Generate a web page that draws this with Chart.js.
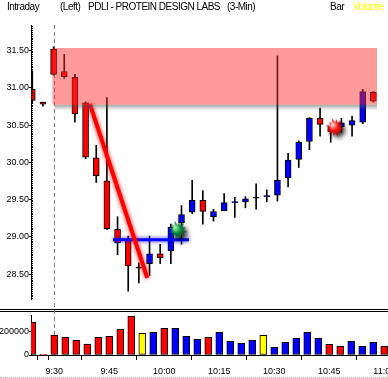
<!DOCTYPE html>
<html>
<head>
<meta charset="utf-8">
<script src="https://cdn.jsdelivr.net/npm/chart.js@4.4.1/dist/chart.umd.min.js"></script>
<style>
  html, body { margin: 0; padding: 0; background: #fff; }
  #wrap { position: relative; width: 388px; height: 378px; overflow: hidden; background: #fff; }
  .hd { position: absolute; top: 1px; font: 10px "Liberation Sans", Arial, sans-serif; letter-spacing: -0.5px; color: #000; white-space: pre; }
  #priceChart { position: absolute; left: 0; top: 0; }
  #volChart { position: absolute; left: 0; top: 300px; }
  #foot { position: absolute; left: 0; top: 377px; width: 388px; border-top: 1px dotted #b0b0b0; }
</style>
</head>
<body>
<div id="wrap">
  <canvas id="priceChart" width="388" height="310"></canvas>
  <canvas id="volChart" width="388" height="78"></canvas>
  <div class="hd" style="left:7px">Intraday</div>
  <div class="hd" style="left:60px">(Left)</div>
  <div class="hd" style="left:88px">PDLI - PROTEIN DESIGN LABS</div>
  <div class="hd" style="left:227px">(3-Min)</div>
  <div class="hd" style="left:330px">Bar</div>
  <div class="hd" style="left:353px;color:#ffff00">Volume</div>
  <div id="foot"></div>
</div>
<script>
// 3-minute bars, 9:24 -> 11:00
const times = ['9:24', '9:27', '9:30', '9:33', '9:36', '9:39', '9:42', '9:45', '9:48', '9:51',
               '9:54', '9:57', '10:00', '10:03', '10:06', '10:09', '10:12', '10:15', '10:18', '10:21',
               '10:24', '10:27', '10:30', '10:33', '10:36', '10:39', '10:42', '10:45', '10:48', '10:51',
               '10:54', '10:57', '11:00'];
const opens  = [30.98, 30.81, 31.52, 31.22, 31.14, 30.80, 30.06, 29.75, 29.10, 28.96,
                28.58, 28.64, 28.77, 28.81, 29.19, 29.33, 29.49, 29.27, 29.35, 29.46,
                29.47, 29.52, 29.54, 29.56, 29.79, 30.04, 30.28, 30.59, 30.48, 30.48,
                30.50, 30.54, 30.94];
const highs  = [31.23, 30.81, 31.55, 31.45, 31.18, 30.81, 30.23, 30.87, 29.27, 29.01,
                28.65, 29.01, 28.90, 29.17, 29.42, 29.76, 29.62, 29.37, 29.58, 29.53,
                29.54, 29.71, 29.63, 31.43, 30.12, 30.29, 30.60, 30.73, 30.52, 30.59,
                30.62, 30.98, 30.95];
const lows   = [30.79, 30.755, 31.17, 31.13, 30.54, 30.05, 29.73, 29.10, 28.76, 28.27,
                28.38, 28.48, 28.64, 28.64, 28.90, 29.31, 29.17, 29.21, 29.35, 29.26,
                29.39, 29.37, 29.47, 29.48, 29.67, 29.93, 30.17, 30.35, 30.27, 30.40,
                30.35, 30.52, 30.81];
const closes = [30.83, 30.78, 31.18, 31.15, 30.65, 30.07, 29.82, 29.11, 28.92, 28.61,
                28.58, 28.77, 28.72, 29.13, 29.30, 29.49, 29.34, 29.34, 29.46, 29.47,
                29.51, 29.52, 29.55, 29.76, 30.03, 30.27, 30.59, 30.51, 30.41, 30.53,
                30.56, 30.95, 30.82];
const volumes = [280000, 6000, 171000, 151000, 126000, 94000, 151000, 160000, 220000, 334000,
                 186000, 194000, 229000, 229000, 160000, 134000, 151000, 194000, 117000, 100000,
                 126000, 169000, 66000, 109000, 143000, 194000, 143000, 91000, 74000, 117000,
                 74000, 109000, 74000];

const priceTicks = [28.5, 29.0, 29.5, 30.0, 30.5, 31.0, 31.5];
const volTicks = [0, 200000];
const timeTickIdx = [1, 2, 7, 12, 17, 22, 27, 32];
const timeTickLabels = ['', '9:30', '9:45', '10:00', '10:15', '10:30', '10:45', '11:00'];

// annotations (x in bar index, y in price)
const zoneLow = 30.775, zoneHigh = 31.535, zoneStart = 1.9;
const trendLine = [{x: 5.4, y: 30.786}, {x: 10.79, y: 28.448}];
const supportLine = [{x: 7.58, y: 28.96}, {x: 14.7, y: 28.96}];
const greenMark = [{x: 13.73, y: 29.075}];
const redMark = [{x: 28.5, y: 30.455}];

const openIdx = 2; // 9:30 session open
const xMin = -0.12, xMax = 32.34;

function candleColor(i) {
  if (closes[i] > opens[i]) return '#0000ff';
  if (closes[i] < opens[i]) return '#ff0000';
  return '#000000';
}
function volColor(i) {
  if (closes[i] > opens[i]) return '#0000ff';
  if (closes[i] < opens[i]) return '#ff0000';
  return '#ffff00';
}

function makeBurst(light, mid, dark) {
  const c = document.createElement('canvas');
  c.width = 28; c.height = 28;
  const g = c.getContext('2d');
  const cx = 13, cy = 13, r = 10;
  g.shadowColor = 'rgba(0,0,0,0.8)';
  g.shadowBlur = 4;
  g.shadowOffsetX = 3;
  g.shadowOffsetY = 3;
  g.beginPath();
  const spikes = 12;
  for (let k = 0; k < spikes * 2; k++) {
    const rr = k % 2 ? r * 0.5 : r * (k % 4 ? 0.85 : 1);
    const a = k * Math.PI / spikes + 0.2;
    g.lineTo(cx + rr * Math.cos(a), cy + rr * Math.sin(a));
  }
  g.closePath();
  const grad = g.createRadialGradient(cx - 3, cy - 3, 0.5, cx, cy, r);
  grad.addColorStop(0, light);
  grad.addColorStop(0.45, mid);
  grad.addColorStop(1, dark);
  g.fillStyle = grad;
  g.fill();
  return c;
}

const font9 = {family: '"Liberation Sans", Arial, sans-serif', size: 9};

// soft glow on the hand-drawn lines
const glow = {
  id: 'glow',
  beforeDatasetDraw(chart, args) {
    const ds = chart.data.datasets[args.index];
    if (ds.glow) {
      chart.ctx.save();
      chart.ctx.shadowColor = ds.glow;
      chart.ctx.shadowBlur = 4;
    }
  },
  afterDatasetDraw(chart, args) {
    if (chart.data.datasets[args.index].glow) chart.ctx.restore();
  }
};

const priceDecor = {
  id: 'priceDecor',
  beforeDatasetsDraw(chart) {
    const {ctx, chartArea: a, scales: {x}} = chart;
    const px = Math.round(x.getPixelForValue(openIdx)) + 0.5;
    ctx.save();
    ctx.strokeStyle = '#808080';
    ctx.lineWidth = 1;
    ctx.setLineDash([4, 3]);
    ctx.beginPath();
    ctx.moveTo(px, a.top);
    ctx.lineTo(px, a.bottom);
    ctx.stroke();
    ctx.restore();
  },
  afterDatasetsDraw(chart) {
    const {ctx, chartArea: a, scales: {x, y}} = chart;
    const x0 = x.getPixelForValue(zoneStart);
    const yTop = y.getPixelForValue(zoneHigh);
    const yBot = y.getPixelForValue(zoneLow);
    ctx.save();
    ctx.beginPath();
    ctx.rect(a.left, a.top, a.right - a.left, a.bottom - a.top);
    ctx.clip();
    // shadow under the band
    const sg = ctx.createLinearGradient(0, yBot, 0, yBot + 6);
    sg.addColorStop(0, 'rgba(90,90,90,0.55)');
    sg.addColorStop(1, 'rgba(90,90,90,0)');
    ctx.fillStyle = sg;
    ctx.fillRect(x0 + 2, yBot, a.right - x0, 6);
    ctx.fillStyle = 'rgba(255,40,40,0.47)';
    ctx.fillRect(x0, yTop, a.right - x0, yBot - yTop);
    ctx.restore();
  },
  afterDraw(chart) {
    // minor ticks along the price axis
    const {ctx, chartArea: a, scales: {y}} = chart;
    ctx.save();
    ctx.fillStyle = '#000';
    const k0 = Math.ceil(y.min / 0.025), k1 = Math.floor(y.max / 0.025);
    for (let k = k0; k <= k1; k++) {
      const py = Math.round(y.getPixelForValue(k * 0.025));
      ctx.fillRect(a.left, py, 2, 1);
    }
    ctx.restore();
  }
};

const volDecor = {
  id: 'volDecor',
  beforeDatasetsDraw(chart) {
    const {ctx, chartArea: a, scales: {x}} = chart;
    const px = Math.round(x.getPixelForValue(openIdx)) + 0.5;
    ctx.save();
    ctx.fillStyle = '#000';
    ctx.fillRect(0, 9, chart.width, 1);
    ctx.fillRect(0, 11, chart.width, 1);
    ctx.strokeStyle = '#808080';
    ctx.lineWidth = 1;
    ctx.setLineDash([4, 3]);
    ctx.beginPath();
    ctx.moveTo(px, 3);
    ctx.lineTo(px, a.bottom);
    ctx.stroke();
    ctx.restore();
  }
};

const idx = times.map((t, i) => i);

new Chart(document.getElementById('priceChart'), {
  type: 'bar',
  data: {
    datasets: [
      {
        label: 'wick',
        data: idx.map(i => ({x: i, y: [lows[i], highs[i]]})),
        backgroundColor: '#000',
        borderWidth: 0,
        barThickness: 1,
        grouped: false,
        order: 3
      },
      {
        label: 'body',
        data: idx.map(i => ({x: i, y: [opens[i], closes[i]]})),
        backgroundColor: idx.map(candleColor),
        borderColor: '#000',
        borderWidth: 1,
        borderSkipped: false,
        barThickness: 6,
        minBarLength: 1,
        grouped: false,
        order: 2
      },
      {
        type: 'line',
        data: trendLine,
        borderColor: '#ff0000',
        borderWidth: 4,
        pointRadius: 0,
        glow: 'rgba(255,0,0,0.9)',
        order: 1
      },
      {
        type: 'line',
        data: supportLine,
        borderColor: '#0000ff',
        borderWidth: 3,
        pointRadius: 0,
        glow: 'rgba(0,0,255,0.8)',
        order: 1
      },
      {
        type: 'scatter',
        data: greenMark,
        pointStyle: makeBurst('#9dffb0', '#0c8a3c', '#003414'),
        pointRadius: 10,
        order: 0
      },
      {
        type: 'scatter',
        data: redMark,
        pointStyle: makeBurst('#ffe0e0', '#ff1010', '#8a0000'),
        pointRadius: 10,
        order: 0
      }
    ]
  },
  options: {
    responsive: false,
    animation: false,
    layout: {padding: {top: 25, bottom: 7, left: 0, right: 0}},
    plugins: {legend: {display: false}, tooltip: {enabled: false}},
    scales: {
      x: {
        type: 'linear',
        min: xMin,
        max: xMax,
        offset: false,
        display: false
      },
      y: {
        min: 28.165,
        max: 31.844,
        beginAtZero: false,
        afterFit: s => { s.width = 31; s.paddingTop = 0; s.paddingBottom = 0; },
        afterBuildTicks: s => { s.ticks = priceTicks.map(v => ({value: v})); },
        ticks: {
          color: '#000',
          font: font9,
          padding: 0,
          callback: v => v.toFixed(2)
        },
        grid: {display: true, drawOnChartArea: false, drawTicks: true, tickLength: 2, color: '#000'},
        border: {display: true, color: '#000', width: 1}
      }
    }
  },
  plugins: [glow, priceDecor]
});

new Chart(document.getElementById('volChart'), {
  type: 'bar',
  data: {
    datasets: [{
      label: 'Volume',
      data: idx.map(i => ({x: i, y: volumes[i]})),
      backgroundColor: idx.map(volColor),
      borderColor: '#000',
      borderWidth: 1,
      borderSkipped: false,
      barThickness: 7,
      grouped: false
    }]
  },
  options: {
    responsive: false,
    animation: false,
    layout: {padding: {top: 15, bottom: 0, left: 0, right: 0}},
    plugins: {legend: {display: false}, tooltip: {enabled: false}},
    scales: {
      x: {
        type: 'linear',
        min: xMin,
        max: xMax,
        offset: false,
        afterFit: s => { s.height = 23; s.paddingLeft = 0; s.paddingRight = 0; },
        afterBuildTicks: s => { s.ticks = timeTickIdx.map(v => ({value: v})); },
        ticks: {
          color: '#000',
          font: font9,
          padding: 6,
          maxRotation: 0,
          autoSkip: false,
          callback: v => timeTickLabels[timeTickIdx.indexOf(v)]
        },
        grid: {display: true, drawOnChartArea: false, drawTicks: true, tickLength: 5, color: '#000'},
        border: {display: true, color: '#000', width: 1}
      },
      y: {
        min: 0,
        max: 343000,
        afterFit: s => { s.width = 31; s.paddingTop = 0; s.paddingBottom = 0; },
        afterBuildTicks: s => { s.ticks = volTicks.map(v => ({value: v})); },
        ticks: {color: '#000', font: font9, padding: 0, callback: v => String(v)},
        grid: {display: true, drawOnChartArea: false, drawTicks: true, tickLength: 2, color: '#000'},
        border: {display: true, color: '#000', width: 1}
      }
    }
  },
  plugins: [volDecor]
});
</script>
</body>
</html>
